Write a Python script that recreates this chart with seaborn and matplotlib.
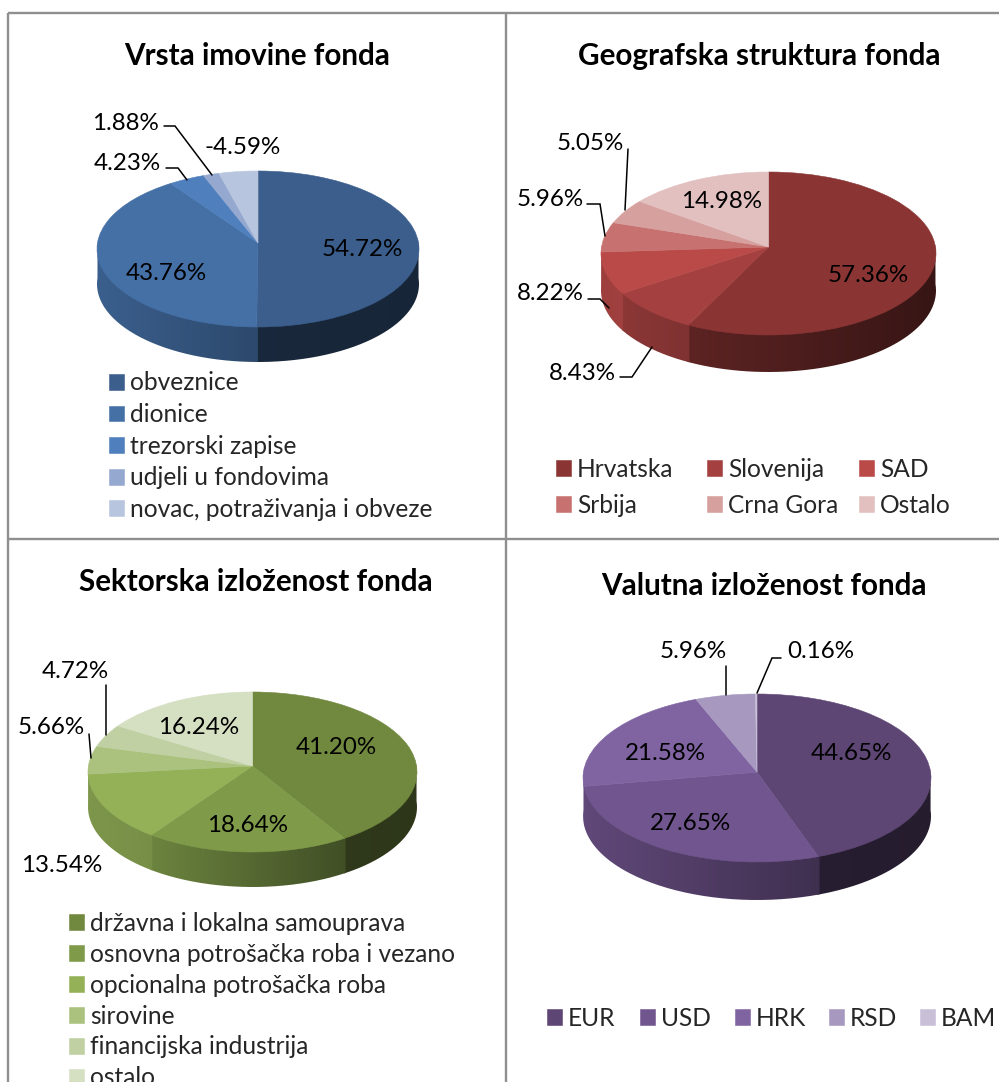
import numpy as np
import matplotlib
matplotlib.use("Agg")
import matplotlib.pyplot as plt
from matplotlib.patches import PathPatch
from matplotlib.path import Path
from matplotlib.transforms import Transform
from matplotlib.colors import to_rgb
import seaborn as sns

W, H = 999, 1082

asset_title = "Vrsta imovine fonda"
asset_names = ["obveznice", "dionice", "trezorski zapise", "udjeli u fondovima", "novac, potraživanja i obveze"]
asset_values = [54.72, 43.76, 4.23, 1.88, -4.59]
asset_colors = ["#3b5e8c", "#4570a6", "#4f80bd", "#95a9d0", "#b8c5de"]

geo_title = "Geografska struktura fonda"
geo_names = ["Hrvatska", "Slovenija", "SAD", "Srbija", "Crna Gora", "Ostalo"]
geo_values = [57.36, 8.43, 8.22, 5.96, 5.05, 14.98]
geo_colors = ["#8a3534", "#a44140", "#b94a48", "#c77270", "#d6a09e", "#e2c0c0"]

sector_title = "Sektorska izloženost fonda"
sector_names = ["državna i lokalna samouprava", "osnovna potrošačka roba i vezano", "opcionalna potrošačka roba",
                "sirovine", "financijska industrija", "ostalo"]
sector_values = [41.20, 18.64, 13.54, 5.66, 4.72, 16.24]
sector_colors = ["#71883f", "#7f9b4a", "#94b158", "#aac27e", "#c0d0a3", "#d5dfc2"]

fx_title = "Valutna izloženost fonda"
fx_names = ["EUR", "USD", "HRK", "RSD", "BAM"]
fx_values = [44.65, 27.65, 21.58, 5.96, 0.16]
fx_colors = ["#5e4674", "#71558e", "#8064a2", "#a698be", "#c9c0d8"]

sns.set_theme(style="white")
plt.rcParams["font.family"] = ["Lato", "DejaVu Sans"]
LABEL_FS = 17.4
LEGEND_FS = 17.65
TITLE_FS = 21.3
BORDER = "#8f8f8f"

fig = plt.figure(figsize=(W / 100, H / 100), dpi=100, facecolor="white")


class Perspective(Transform):
    """Tilt of the disc: the far half looks shorter than the near half."""
    input_dims = output_dims = 2

    def __init__(self, a):
        super().__init__()
        self.a = a

    def transform_non_affine(self, xy):
        xy = np.asarray(xy, float)
        a = self.a
        den = 1 + a * xy[:, 1]
        return np.c_[xy[:, 0] * np.sqrt(1 - a * a) / den, (xy[:, 1] + a) / den]

    def inverted(self):
        return Perspective(-self.a)


def pie3d(values, colors, cx, cy, rx, ry, depth, a):
    ax = fig.add_axes([(cx - rx) / W, 1 - (cy + ry + depth) / H, 2 * rx / W, (2 * ry + depth) / H])
    wedges, _ = ax.pie(np.abs(values), colors=colors, startangle=90, counterclock=False,
                       radius=1, wedgeprops={"linewidth": 0.4, "zorder": 5})
    d = depth / ry
    ax.set_aspect("auto")
    ax.axis("off")
    ax.patch.set_alpha(0)
    persp = Perspective(a)
    for w, c in zip(wedges, colors):
        w.set_edgecolor(c)
        w.set_transform(persp + ax.transData)
    for i, (w, c) in enumerate(zip(wedges, colors)):
        for k in (-360, 0, 360):
            lo, hi = max(w.theta1 + k, 180), min(w.theta2 + k, 360)
            if hi <= lo:
                continue
            t = np.radians(np.linspace(lo, hi, 100))
            pts = persp.transform_non_affine(np.c_[np.cos(t), np.sin(t)])
            # the wall spans from the visible rim down to the rim shifted by the depth
            wide = np.radians(np.linspace(max(lo - 0.4, 180), min(hi + 0.4, 360), 100))
            rim = persp.transform_non_affine(np.c_[np.cos(wide), np.sin(wide)])
            xs, ys = rim[:, 0], rim[:, 1]
            poly = np.r_[np.c_[xs, ys + 0.03], np.c_[xs[::-1], ys[::-1] - d]]
            xl, xr = pts[:, 0].min(), pts[:, 0].max()
            if i == 0:
                m0, m1 = np.interp(xl, [-1, 0], [0.95, 0.42]), 0.40
            else:
                m0, m1 = 0.85, np.interp(xr, [-1, 1], [0.9, 0.4])
            g = np.linspace(m0, m1, 64)[None, :, None] * np.array(to_rgb(c))[None, None, :]
            im = ax.imshow(np.clip(g, 0, 1), extent=(xs.min(), xs.max(), -1 - d, 1), aspect="auto",
                           zorder=2 + 0.01 * i, interpolation="bilinear")
            clip = PathPatch(Path(poly), transform=ax.transData, fc="none", ec="none")
            ax.add_patch(clip)
            im.set_clip_path(clip)
    ax.set_xlim(-1, 1)
    ax.set_ylim(-1 - d, 1)
    return wedges


def add_legend(handles, names, x, y, spacing=0.36):
    return fig.legend(handles, names, loc="upper left", bbox_to_anchor=(x / W, 1 - y / H),
                      frameon=False, fontsize=LEGEND_FS, borderpad=0, borderaxespad=0,
                      handlelength=0.62, handleheight=0.62, handletextpad=0.24,
                      labelspacing=spacing)


w1 = pie3d(asset_values, asset_colors, 258, 249, 161, 78, 35, 0.077)
w2 = pie3d(geo_values, geo_colors, 768.5, 253.5, 167.5, 81.5, 37, 0.08)
w3 = pie3d(sector_values, sector_colors, 252.5, 772, 164.5, 80, 35, 0.075)
w4 = pie3d(fx_values, fx_colors, 757, 778, 174, 84, 38, 0.07)

add_legend(w1, asset_names, 109, 371.5, spacing=0.35)
add_legend(w3, sector_names, 69, 912, spacing=0.32)
for col, x in zip(range(3), (556, 707, 859)):
    add_legend([w2[col], w2[col + 3]], [geo_names[col], geo_names[col + 3]], x, 458, spacing=0.53)
for col, x in zip(range(5), (547, 640, 735, 829, 920)):
    add_legend([w4[col]], [fx_names[col]], x, 1007)

ov = fig.add_axes([0, 0, 1, 1], zorder=10)
ov.set_xlim(0, W)
ov.set_ylim(H, 0)
ov.axis("off")
ov.patch.set_alpha(0)

for xs, ys in [((8, W), (13, 13)), ((8, 8), (13, H)), ((506, 506), (13, H)), ((8, W), (539, 539))]:
    ov.plot(xs, ys, color=BORDER, lw=1.7, solid_capstyle="butt")

for txt, x, y in [(asset_title, 257, 56), (geo_title, 759, 56), (sector_title, 256, 582), (fx_title, 764, 586)]:
    ov.text(x, y, txt, ha="center", va="center", fontsize=TITLE_FS, fontweight="bold", color="black")

label_xy = [
    (asset_values, [(362, 249), (166, 273), (127, 163), (125, 123), (243, 147)]),
    (geo_values, [(868, 275), (582, 373), (550, 294), (550, 199), (590, 144), (722, 202)]),
    (sector_values, [(336, 748), (248, 826), (62, 866), (51, 727), (75, 671), (199, 727)]),
    (fx_values, [(851, 754), (690, 823), (665, 754), (693, 652), (821, 652)]),
]
for vals, pts in label_xy:
    for v, (x, y) in zip(vals, pts):
        ov.text(x, y, f"{v:.2f}%", ha="center", va="center", fontsize=LABEL_FS, color="black")

leaders = [
    [(164, 126), (175, 126), (212, 175)],
    [(166, 168), (178, 168), (187, 180)],
    [(628, 149), (625, 210)],
    [(587, 204), (600, 204), (605, 236)],
    [(588, 299), (600, 299), (609, 308)],
    [(620, 377), (632, 377), (652, 347)],
    [(106, 685), (106, 735)],
    [(89, 734), (91, 758)],
    [(726, 666), (726, 695)],
    [(781, 658), (772, 658), (757, 693)],
]
for seg in leaders:
    a = np.array(seg)
    ov.plot(a[:, 0], a[:, 1], color="black", lw=1.1, solid_joinstyle="miter")

fig.savefig("out.png", dpi=100, facecolor="white")
